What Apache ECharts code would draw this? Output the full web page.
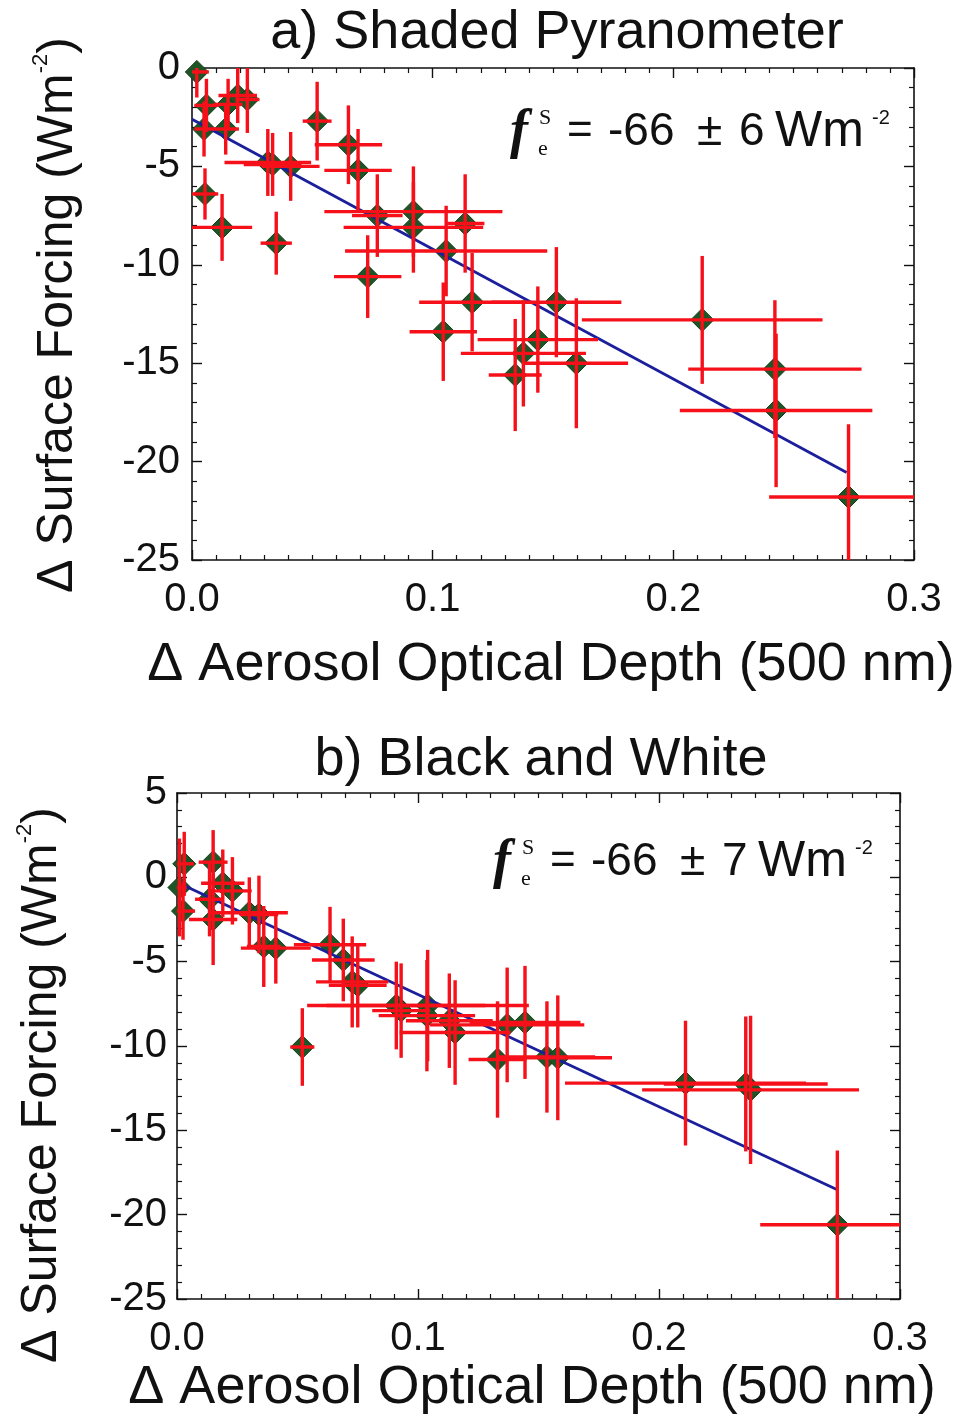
<!DOCTYPE html>
<html>
<head>
<meta charset="utf-8">
<script src="https://cdn.jsdelivr.net/npm/echarts@6/dist/echarts.min.js"></script>
<style>
html,body{margin:0;padding:0;background:#fff;}
#chart{width:958px;height:1416px;}
</style>
</head>
<body>
<div id="chart"></div>
<script>
// ---------- Panel a) Shaded Pyranometer ----------
const aX    = [0.002, 0.006, 0.005, 0.014, 0.015, 0.019, 0.023, 0.0054, 0.0125, 0.0315, 0.0335, 0.041, 0.035, 0.052, 0.065, 0.069, 0.077, 0.073, 0.092, 0.092, 0.1135, 0.1056, 0.1164, 0.1044, 0.1514, 0.1437, 0.1377, 0.1343, 0.1597, 0.212, 0.2422, 0.2427, 0.2728];
const aY    = [-0.2, -1.9, -3.1, -3.1, -1.85, -1.4, -1.6, -6.4, -8.1, -4.8, -4.9, -5.0, -8.9, -2.7, -3.9, -5.2, -7.5, -10.6, -7.3, -8.1, -7.9, -9.3, -11.9, -13.4, -11.9, -13.8, -14.5, -15.6, -15.0, -12.8, -15.3, -17.4, -21.8];
const aXErr = [0.005, 0.005, 0.004, 0.0055, 0.006, 0.008, 0.005, 0.0055, 0.0125, 0.018, 0.012, 0.012, 0.0065, 0.006, 0.014, 0.014, 0.0105, 0.014, 0.037, 0.029, 0.008, 0.042, 0.022, 0.014, 0.027, 0.025, 0.026, 0.011, 0.0215, 0.05, 0.036, 0.040, 0.033];
const aYErr = [1.3, 1.35, 1.4, 1.3, 1.3, 1.4, 1.7, 1.3, 1.7, 1.7, 1.6, 1.75, 1.6, 2.0, 2.0, 2.1, 2.1, 2.1, 2.3, 2.3, 2.5, 2.3, 2.5, 2.5, 2.8, 2.7, 2.7, 2.85, 3.3, 3.25, 3.5, 3.9, 3.7];
const aFitX = [0.0, 0.272];
const aFitY = [-2.6, -20.55];

// ---------- Panel b) Black and White ----------
const bX    = [0.003, 0.001, 0.0025, 0.015, 0.019, 0.023, 0.0135, 0.015, 0.030, 0.034, 0.036, 0.041, 0.052, 0.0635, 0.069, 0.0727, 0.075, 0.091, 0.093, 0.104, 0.1037, 0.113, 0.1154, 0.137, 0.1444, 0.133, 0.1535, 0.158, 0.211, 0.236, 0.238, 0.274];
const bY    = [0.8, -0.6, -2.0, 0.9, -0.35, -0.8, -1.3, -2.5, -2.1, -2.2, -4.1, -4.2, -10.06, -4.0, -4.9, -6.2, -6.4, -7.6, -7.9, -7.6, -8.2, -8.5, -9.2, -8.75, -8.6, -10.8, -10.65, -10.7, -12.2, -12.25, -12.6, -20.6];
const bXErr = [0.004, 0.003, 0.005, 0.006, 0.009, 0.008, 0.006, 0.01, 0.016, 0.008, 0.007, 0.0145, 0.005, 0.015, 0.013, 0.015, 0.012, 0.037, 0.012, 0.042, 0.02, 0.018, 0.023, 0.032, 0.023, 0.012, 0.02, 0.0225, 0.05, 0.034, 0.045, 0.032];
const bYErr = [1.9, 2.9, 1.7, 1.9, 2.0, 2.0, 2.2, 2.7, 2.1, 2.3, 2.4, 2.1, 2.3, 2.25, 2.45, 2.7, 2.5, 2.6, 2.8, 3.3, 3.3, 2.8, 3.1, 3.4, 3.35, 3.45, 3.3, 3.7, 3.7, 4.0, 4.4, 4.4];
const bFitX = [0.002, 0.274];
const bFitY = [-0.43, -18.52];

// ---------- Axes / labels ----------
const xTicks = [0.0, 0.1, 0.2, 0.3];
const aYRange = [-25, 0];
const bYRange = [-25, 5];
const titleA = 'a) Shaded Pyranometer';
const titleB = 'b) Black and White';
const xTitle = 'Δ Aerosol Optical Depth (500 nm)';
const yTitleMain = 'Δ Surface Forcing (Wm';
const fitA = {value: '-66', err: '6'};
const fitB = {value: '-66', err: '7'};

const SANS = '"Liberation Sans", Arial, Helvetica, sans-serif';
const SERIF = '"Liberation Serif", "Times New Roman", serif';
const RED = '#f5101a';
const GREEN = '#1d5526';
const BLUE = '#1b1f9c';

const chart = echarts.init(document.getElementById('chart'), null, {renderer: 'canvas'});

function xAxisDef(gridIndex, pos, labels) {
  return {
    type: 'value', gridIndex, position: pos, min: 0, max: 0.3, interval: 0.1,
    axisLine: {show: true, onZero: false, lineStyle: {color: '#111', width: 1.6}},
    axisTick: {show: true, inside: true, length: 10, lineStyle: {color: '#111', width: 1.4}},
    minorTick: {show: true, splitNumber: 10, length: 5, lineStyle: {color: '#111', width: 1.2}},
    splitLine: {show: false}, minorSplitLine: {show: false},
    axisLabel: {show: labels, margin: 20, fontSize: 40, color: '#111', fontFamily: SANS,
      formatter: v => xTicks.some(t => Math.abs(t - v) < 1e-9) ? v.toFixed(1) : ''}
  };
}
function yAxisDef(gridIndex, pos, range, labels, margin) {
  return {
    type: 'value', gridIndex, position: pos, min: range[0], max: range[1], interval: 5,
    axisLine: {show: true, onZero: false, lineStyle: {color: '#111', width: 1.6}},
    axisTick: {show: true, inside: true, length: 10, lineStyle: {color: '#111', width: 1.4}},
    minorTick: {show: true, splitNumber: 5, length: 5, lineStyle: {color: '#111', width: 1.2}},
    splitLine: {show: false}, minorSplitLine: {show: false},
    axisLabel: {show: labels, margin: margin, fontSize: 40, color: '#111', fontFamily: SANS}
  };
}

function errorBars(xr, yr) {
  const clamp = (v, lo, hi) => Math.max(lo, Math.min(hi, v));
  return function (params, api) {
    const x = api.value(0), y = api.value(1), ex = api.value(2), ey = api.value(3);
    const h1 = api.coord([clamp(x - ex, xr[0], xr[1]), y]);
    const h2 = api.coord([clamp(x + ex, xr[0], xr[1]), y]);
    const v1 = api.coord([x, clamp(y - ey, yr[0], yr[1])]);
    const v2 = api.coord([x, clamp(y + ey, yr[0], yr[1])]);
    const st = {stroke: RED, lineWidth: 3.4};
    return {type: 'group', children: [
      {type: 'line', shape: {x1: h1[0], y1: h1[1], x2: h2[0], y2: h2[1]}, style: st},
      {type: 'line', shape: {x1: v1[0], y1: v1[1], x2: v2[0], y2: v2[1]}, style: st}
    ]};
  };
}

function panelSeries(xs, ys, exs, eys, fx, fy, xi, yi, yr) {
  return [
    {type: 'scatter', xAxisIndex: xi, yAxisIndex: yi, symbol: 'diamond', symbolSize: [23, 23],
     itemStyle: {color: GREEN, borderColor: '#123a18', borderWidth: 1, opacity: 1},
     data: xs.map((x, i) => [x, ys[i]]), z: 2, silent: true},
    {type: 'line', xAxisIndex: xi, yAxisIndex: yi, showSymbol: false, symbol: 'none',
     lineStyle: {color: BLUE, width: 2.8}, data: fx.map((x, i) => [x, fy[i]]), z: 3, silent: true},
    {type: 'custom', xAxisIndex: xi, yAxisIndex: yi, renderItem: errorBars([0, 0.3], yr),
     data: xs.map((x, i) => [x, ys[i], exs[i], eys[i]]), encode: {x: 0, y: 1}, z: 4, silent: true}
  ];
}

function annotation(x0, y0, f) {
  const base = {fill: '#111', textVerticalAlign: 'middle', textAlign: 'left'};
  return [
    {type: 'text', x: x0, y: y0 + 1, style: Object.assign({}, base, {text: 'f', font: 'bold italic 54px ' + SERIF})},
    {type: 'text', x: x0 + 29, y: y0 - 14, style: Object.assign({}, base, {text: 'S', font: '22px ' + SERIF})},
    {type: 'text', x: x0 + 28, y: y0 + 17, style: Object.assign({}, base, {text: 'e', font: '22px ' + SERIF})},
    {type: 'text', x: x0 + 57, y: y0, style: Object.assign({}, base, {text: '=', font: '44px ' + SANS})},
    {type: 'text', x: x0 + 98, y: y0, style: Object.assign({}, base, {text: f.value, font: '46px ' + SANS})},
    {type: 'text', x: x0 + 187, y: y0, style: Object.assign({}, base, {text: '±', font: '46px ' + SANS})},
    {type: 'text', x: x0 + 229, y: y0, style: Object.assign({}, base, {text: f.err, font: '46px ' + SANS})},
    {type: 'text', x: x0 + 265, y: y0, style: Object.assign({}, base, {text: 'Wm', font: '50px ' + SANS})},
    {type: 'text', x: x0 + 362, y: y0 - 14, style: Object.assign({}, base, {text: '-2', font: '20px ' + SANS})}
  ];
}

function yTitle(x, y) {
  return {type: 'text', x: x, y: y, rotation: Math.PI / 2,
    style: {text: '{n|' + yTitleMain + '}{s|-2}{n|)}', textAlign: 'center', textVerticalAlign: 'middle',
      rich: {n: {font: '50px ' + SANS, fill: '#111', lineHeight: 56},
             s: {font: '22px ' + SANS, fill: '#111', verticalAlign: 'top', lineHeight: 56}}}};
}

const option = {
  backgroundColor: '#ffffff',
  animation: false,
  grid: [
    {left: 192, top: 68, width: 722, height: 492},
    {left: 177, top: 793, width: 723, height: 506}
  ],
  xAxis: [
    xAxisDef(0, 'bottom', true), xAxisDef(0, 'top', false),
    xAxisDef(1, 'bottom', true), xAxisDef(1, 'top', false)
  ],
  yAxis: [
    yAxisDef(0, 'left', aYRange, true, 12), yAxisDef(0, 'right', aYRange, false, 12),
    yAxisDef(1, 'left', bYRange, true, 10), yAxisDef(1, 'right', bYRange, false, 10)
  ],
  series: [].concat(
    panelSeries(aX, aY, aXErr, aYErr, aFitX, aFitY, 0, 0, aYRange),
    panelSeries(bX, bY, bXErr, bYErr, bFitX, bFitY, 2, 2, bYRange)
  ),
  graphic: [
    {type: 'text', x: 557, y: 33, style: {text: titleA, font: '54px ' + SANS, fill: '#111', textAlign: 'center', textVerticalAlign: 'middle'}},
    {type: 'text', x: 541, y: 760, style: {text: titleB, font: '54px ' + SANS, fill: '#111', textAlign: 'center', textVerticalAlign: 'middle'}},
    {type: 'text', x: 551, y: 665, style: {text: xTitle, font: '54px ' + SANS, fill: '#111', textAlign: 'center', textVerticalAlign: 'middle'}},
    {type: 'text', x: 532, y: 1388, style: {text: xTitle, font: '54px ' + SANS, fill: '#111', textAlign: 'center', textVerticalAlign: 'middle'}},
    yTitle(58, 315),
    yTitle(42, 1085)
  ].concat(annotation(510, 132, fitA), annotation(493, 862, fitB))
};
chart.setOption(option);
</script>
</body>
</html>
